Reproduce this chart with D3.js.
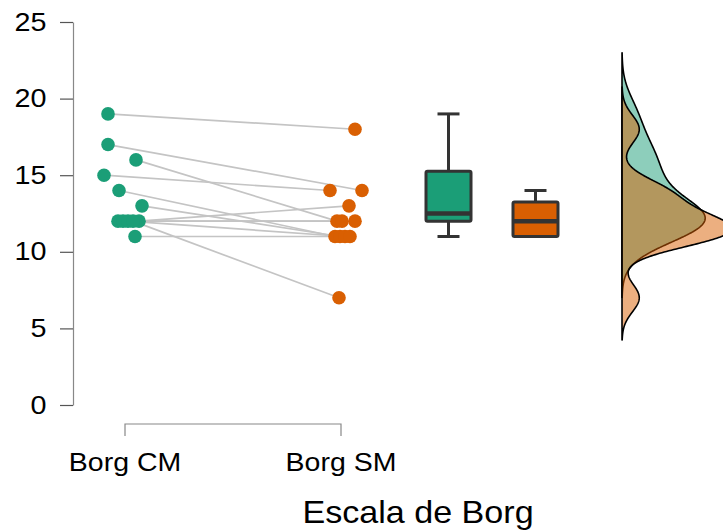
<!DOCTYPE html>
<html><head><meta charset="utf-8">
<script src="https://cdn.jsdelivr.net/npm/d3@7"></script>
<style>html,body{margin:0;padding:0;background:#fff;}svg{display:block;font-family:"Liberation Sans",Arial,sans-serif;}</style>
</head><body>
<svg id="c" width="723" height="531"></svg>
<script>
// ---- data ----
const groups = ["Borg CM", "Borg SM"];
const borgCM = [19, 17, 16, 15, 14, 13, 12, 12, 12, 12, 12, 11];
const borgSM = [18, 14, 12, 14, 11, 11, 13, 12, 12, 11, 7, 11];
// horizontal jitter of each point, in units of the jitter half-width (-1..1)
const jitterCM = [-0.68, -0.68, 0.44, -0.84, -0.24, 0.68, 0.56, -0.28, -0.08, 0.12, 0.32, 0.4];
const jitterSM = [0.56, 0.84, -0.16, -0.44, -0.24, -0.04, 0.32, 0.04, 0.56, 0.16, -0.08, 0.36];
const yTicks = [0, 5, 10, 15, 20, 25];
const xTitle = "Escala de Borg";

const colors = ["#1b9e77", "#d95f02"];
const series = [borgCM, borgSM];
const jitters = [jitterCM, jitterSM];

const svg = d3.select("#c");
const y = d3.scaleLinear().domain([0, 25]).range([405, 22]);
const x = d3.scalePoint().domain(groups).range([125, 341]);
const jit = d3.scaleLinear().domain([-1, 1]).range([-25, 25]);
const xBox = d3.scalePoint().domain(groups).range([448.5, 535.5]);

// y axis
const yAxis = d3.axisLeft(y).tickValues(yTicks).tickSize(13).tickPadding(10).tickSizeOuter(0);
const gy = svg.append("g").attr("transform", "translate(73,0)").call(yAxis);
gy.select(".domain").attr("stroke", "#888").attr("stroke-width", 1.2);
gy.selectAll(".tick line").attr("stroke", "#555").attr("stroke-width", 1.2);
gy.selectAll(".tick text").attr("font-size", 25).attr("fill", "#000")
  .attr("font-family", "'Liberation Sans', Arial, sans-serif")
  .attr("transform", "scale(1.15,1)");

// x bracket axis
const bx = svg.append("g");
bx.append("path")
  .attr("d", `M${x(groups[0])},436V424H${x(groups[1])}V436`)
  .attr("fill", "none").attr("stroke", "#888").attr("stroke-width", 1.2);
bx.selectAll("text").data(groups).join("text")
  .attr("transform", d => `translate(${x(d)},471) scale(1.14,1)`)
  .attr("text-anchor", "middle").attr("font-size", 25).text(d => d);
svg.append("text").attr("transform", "translate(418,523) scale(1.1,1)").attr("text-anchor", "middle")
  .attr("font-size", 31).text(xTitle);

// connecting lines
const pairs = borgCM.map((v, i) => ({ a: v, b: borgSM[i], ja: jitterCM[i], jb: jitterSM[i] }));
svg.append("g").selectAll("line").data(pairs).join("line")
  .attr("x1", d => x(groups[0]) + jit(d.ja)).attr("y1", d => y(d.a))
  .attr("x2", d => x(groups[1]) + jit(d.jb)).attr("y2", d => y(d.b))
  .attr("stroke", "#c4c4c4").attr("stroke-width", 1.7);

// points
series.forEach((vals, gi) => {
  svg.append("g").selectAll("circle").data(vals).join("circle")
    .attr("cx", (d, i) => x(groups[gi]) + jit(jitters[gi][i]))
    .attr("cy", d => y(d)).attr("r", 6.8).attr("fill", colors[gi]);
});

// boxplots
const bw = 45, capW = 22;
series.forEach((vals, gi) => {
  const s = vals.slice().sort(d3.ascending);
  const q1 = d3.quantile(s, 0.25), med = d3.quantile(s, 0.5), q3 = d3.quantile(s, 0.75);
  const iqr = q3 - q1;
  const lo = d3.min(s.filter(v => v >= q1 - 1.5 * iqr));
  const hi = d3.max(s.filter(v => v <= q3 + 1.5 * iqr));
  const cx = xBox(groups[gi]);
  const g = svg.append("g").attr("stroke", "#333").attr("stroke-width", 3);
  g.append("line").attr("x1", cx).attr("x2", cx).attr("y1", y(hi)).attr("y2", y(q3));
  g.append("line").attr("x1", cx).attr("x2", cx).attr("y1", y(q1)).attr("y2", y(lo));
  g.append("line").attr("x1", cx - capW / 2).attr("x2", cx + capW / 2).attr("y1", y(hi)).attr("y2", y(hi));
  g.append("line").attr("x1", cx - capW / 2).attr("x2", cx + capW / 2).attr("y1", y(lo)).attr("y2", y(lo));
  g.append("rect").attr("x", cx - bw / 2).attr("width", bw)
    .attr("y", y(q3)).attr("height", y(q1) - y(q3))
    .attr("fill", colors[gi]).attr("rx", 1.5);
  g.append("line").attr("x1", cx - bw / 2).attr("x2", cx + bw / 2)
    .attr("y1", y(med)).attr("y2", y(med)).attr("stroke-width", 4.5);
});

// densities (gaussian KDE, nrd0 bandwidth, cut = 3)
function nrd0(s) {
  const sd = d3.deviation(s);
  const iqr = d3.quantile(s, 0.75) - d3.quantile(s, 0.25);
  const lo = Math.min(sd, iqr / 1.34);
  return 0.9 * lo * Math.pow(s.length, -0.2);
}
function kde(vals) {
  const s = vals.slice().sort(d3.ascending);
  const h = nrd0(s);
  const a = s[0] - 3 * h, b = s[s.length - 1] + 3 * h;
  const n = 400, out = [];
  for (let k = 0; k <= n; k++) {
    const t = a + (b - a) * k / n;
    const f = d3.sum(s, v => Math.exp(-0.5 * ((t - v) / h) ** 2)) / (s.length * h * Math.sqrt(2 * Math.PI));
    out.push([t, f]);
  }
  return out;
}
const xD = d3.scaleLinear().domain([0, 0.174]).range([622, 705]);
const area = d3.area().y(d => y(d[0])).x0(xD(0)).x1(d => xD(d[1]));
const densFill = ["rgba(27,158,119,0.5)", "rgba(217,95,2,0.5)"];
series.forEach((vals, gi) => {
  const dens = kde(vals);
  svg.append("path").datum(dens).attr("d", area)
    .attr("fill", densFill[gi]).attr("stroke", "#000").attr("stroke-width", 1.6)
    .attr("stroke-linejoin", "round");
});
</script>
</body></html>
